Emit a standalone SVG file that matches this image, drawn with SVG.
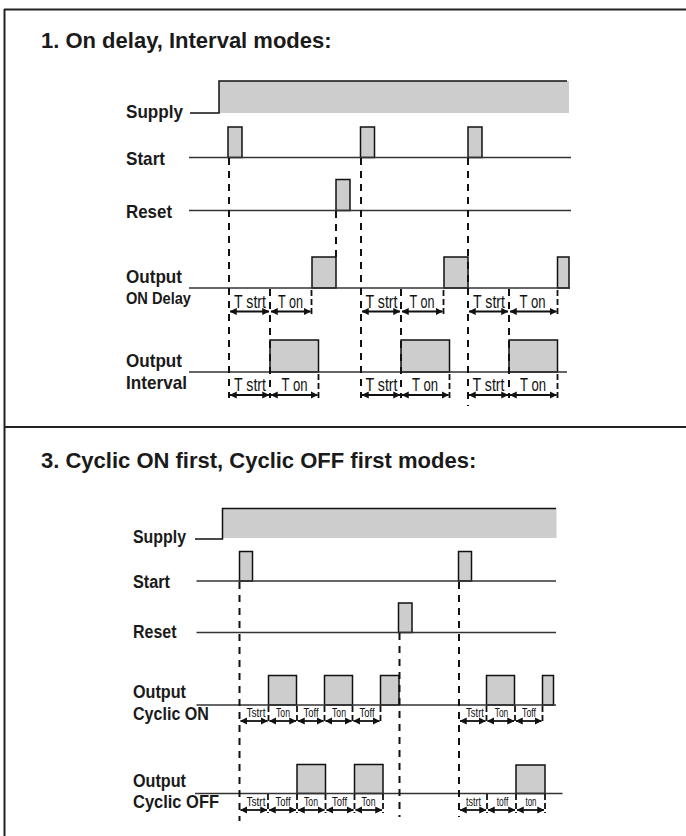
<svg xmlns="http://www.w3.org/2000/svg" width="686" height="836" viewBox="0 0 686 836">
<style>
.frame{stroke:#222;stroke-width:2;fill:none}
.title{font-family:"Liberation Sans",Arial,sans-serif;font-weight:bold;font-size:22px;fill:#1a1a1a}
.lbl{font-family:"Liberation Sans",Arial,sans-serif;font-weight:bold;font-size:19px;fill:#1a1a1a}
.lbl2{font-family:"Liberation Sans",Arial,sans-serif;font-weight:bold;font-size:18px;fill:#1a1a1a}
.sub{font-family:"Liberation Sans",Arial,sans-serif;font-weight:bold;font-size:16px;fill:#1a1a1a}
.t{font-family:"Liberation Sans",Arial,sans-serif;font-size:19px;fill:#111;text-anchor:middle}
.ts{font-family:"Liberation Sans",Arial,sans-serif;font-size:13px;fill:#111;text-anchor:middle}
.sig{stroke:#333;stroke-width:1.5;fill:none}
.pulse{fill:#cdcdcd;stroke:#111;stroke-width:1.5}
.gray{fill:#cdcdcd;stroke:none}
.edge{stroke:#111;stroke-width:1.5;fill:none}
.dash{stroke:#111;stroke-width:2;stroke-dasharray:7 6;fill:none}
.tick{stroke:#111;stroke-width:1.8;stroke-dasharray:6 3;fill:none}
.arr{stroke:#111;stroke-width:1.8;fill:none;marker-start:url(#ah);marker-end:url(#ah)}
</style>
<defs>
<marker id="ah" viewBox="0 0 8 8" refX="7.5" refY="4" markerWidth="4" markerHeight="4" orient="auto-start-reverse" markerUnits="strokeWidth">
<path d="M0,0 L8,4 L0,8 z" fill="#111"/>
</marker>
</defs>

<g id="frame">
<line class="frame" x1="4" y1="9.5" x2="686" y2="9.5"/>
<line class="frame" x1="4.5" y1="9" x2="4.5" y2="836"/>
<line class="frame" x1="4" y1="427" x2="686" y2="427"/>
</g>

<!-- ===== Section 1 ===== -->
<g id="section1">
<text class="title" x="41" y="48">1. On delay, Interval modes:</text>

<g id="s1-supply">
<text class="lbl" x="126" y="118" textLength="57" lengthAdjust="spacingAndGlyphs">Supply</text>
<rect class="gray" x="219" y="81" width="350" height="32"/>
<path class="edge" d="M190,113 H219 V81 H567"/>
</g>

<g id="s1-start">
<text class="lbl" x="126" y="165" textLength="39" lengthAdjust="spacingAndGlyphs">Start</text>
<rect class="pulse" x="228" y="127" width="14" height="30.5"/>
<rect class="pulse" x="360.5" y="127" width="14" height="30.5"/>
<rect class="pulse" x="468" y="127" width="14" height="30.5"/>
<line class="sig" x1="189" y1="157.5" x2="571" y2="157.5"/>
</g>

<g id="s1-reset">
<text class="lbl" x="126" y="218" textLength="46" lengthAdjust="spacingAndGlyphs">Reset</text>
<rect class="pulse" x="336" y="179.5" width="14" height="31"/>
<line class="sig" x1="189" y1="210.5" x2="571" y2="210.5"/>
</g>

<g id="s1-ondelay">
<text class="lbl" x="126" y="283" textLength="56" lengthAdjust="spacingAndGlyphs">Output</text>
<text class="sub" x="126" y="304" textLength="65" lengthAdjust="spacingAndGlyphs">ON Delay</text>
<rect class="pulse" x="312" y="257" width="24" height="31"/>
<rect class="pulse" x="444" y="257" width="24" height="31"/>
<rect class="pulse" x="557.5" y="257" width="11.5" height="31"/>
<line class="sig" x1="189" y1="288" x2="570" y2="288"/>
</g>

<g id="s1-interval">
<text class="lbl" x="126" y="367" textLength="56" lengthAdjust="spacingAndGlyphs">Output</text>
<text class="lbl" x="126" y="389" textLength="61" lengthAdjust="spacingAndGlyphs">Interval</text>
<rect class="pulse" x="270" y="340" width="48.5" height="32"/>
<rect class="pulse" x="401" y="340" width="48.5" height="32"/>
<rect class="pulse" x="509" y="340" width="48.5" height="32"/>
<line class="sig" x1="189" y1="372" x2="567" y2="372"/>
</g>
</g>

<g id="connectors1">
<line class="dash" x1="229" y1="158" x2="229" y2="398"/>
<line class="dash" x1="361" y1="158" x2="361" y2="398"/>
<line class="dash" x1="468" y1="158" x2="468" y2="406"/>
<line class="dash" x1="336" y1="211" x2="336" y2="257"/>
<line class="dash" x1="270" y1="289" x2="270" y2="398"/>
<line class="dash" x1="401" y1="289" x2="401" y2="398"/>
<line class="dash" x1="509" y1="289" x2="509" y2="398"/>
<line class="tick" x1="311.5" y1="290" x2="311.5" y2="314"/>
<line class="tick" x1="443.5" y1="290" x2="443.5" y2="314"/>
<line class="tick" x1="557.5" y1="290" x2="557.5" y2="314"/>
<line class="tick" x1="318.5" y1="374" x2="318.5" y2="398"/>
<line class="tick" x1="449.5" y1="374" x2="449.5" y2="398"/>
<line class="tick" x1="557.5" y1="374" x2="557.5" y2="398"/>

<line class="arr" x1="230" y1="311.5" x2="269" y2="311.5"/>
<line class="arr" x1="271" y1="311.5" x2="310.5" y2="311.5"/>
<line class="arr" x1="362" y1="311.5" x2="400" y2="311.5"/>
<line class="arr" x1="402" y1="311.5" x2="442.5" y2="311.5"/>
<line class="arr" x1="469" y1="311.5" x2="508" y2="311.5"/>
<line class="arr" x1="510" y1="311.5" x2="556.5" y2="311.5"/>

<line class="arr" x1="230" y1="395" x2="269" y2="395"/>
<line class="arr" x1="271" y1="395" x2="317.5" y2="395"/>
<line class="arr" x1="362" y1="395" x2="400" y2="395"/>
<line class="arr" x1="402" y1="395" x2="448.5" y2="395"/>
<line class="arr" x1="469" y1="395" x2="508" y2="395"/>
<line class="arr" x1="510" y1="395" x2="556.5" y2="395"/>

<text class="t" x="250" y="307.5" textLength="32" lengthAdjust="spacingAndGlyphs">T strt</text>
<text class="t" x="290.5" y="307.5" textLength="25" lengthAdjust="spacingAndGlyphs">T on</text>
<text class="t" x="381.5" y="307.5" textLength="32" lengthAdjust="spacingAndGlyphs">T strt</text>
<text class="t" x="422" y="307.5" textLength="25" lengthAdjust="spacingAndGlyphs">T on</text>
<text class="t" x="489" y="307.5" textLength="32" lengthAdjust="spacingAndGlyphs">T strt</text>
<text class="t" x="532.5" y="307.5" textLength="26" lengthAdjust="spacingAndGlyphs">T on</text>

<text class="t" x="250" y="391" textLength="32" lengthAdjust="spacingAndGlyphs">T strt</text>
<text class="t" x="294.5" y="391" textLength="26" lengthAdjust="spacingAndGlyphs">T on</text>
<text class="t" x="381.5" y="391" textLength="32" lengthAdjust="spacingAndGlyphs">T strt</text>
<text class="t" x="425" y="391" textLength="26" lengthAdjust="spacingAndGlyphs">T on</text>
<text class="t" x="488.5" y="391" textLength="32" lengthAdjust="spacingAndGlyphs">T strt</text>
<text class="t" x="533" y="391" textLength="26" lengthAdjust="spacingAndGlyphs">T on</text>
</g>

<!-- ===== Section 3 ===== -->
<g id="section3">
<text class="title" x="41" y="468">3. Cyclic ON first, Cyclic OFF first modes:</text>

<g id="s3-supply">
<text class="lbl2" x="133" y="543" textLength="53" lengthAdjust="spacingAndGlyphs">Supply</text>
<rect class="gray" x="222.5" y="508.5" width="334" height="29.5"/>
<path class="edge" d="M195,539 H222.5 V508.5 H556"/>
</g>

<g id="s3-start">
<text class="lbl2" x="133" y="588" textLength="37" lengthAdjust="spacingAndGlyphs">Start</text>
<rect class="pulse" x="239.5" y="551.5" width="13" height="29.5"/>
<rect class="pulse" x="458.5" y="551.5" width="13" height="29.5"/>
<line class="sig" x1="196.5" y1="581" x2="556" y2="581"/>
</g>

<g id="s3-reset">
<text class="lbl2" x="133" y="638" textLength="43.5" lengthAdjust="spacingAndGlyphs">Reset</text>
<rect class="pulse" x="398.5" y="603" width="13.5" height="29.5"/>
<line class="sig" x1="196.5" y1="632.5" x2="556" y2="632.5"/>
</g>

<g id="s3-cyclicon">
<text class="lbl2" x="133" y="698" textLength="53" lengthAdjust="spacingAndGlyphs">Output</text>
<text class="lbl2" x="133" y="720" textLength="76" lengthAdjust="spacingAndGlyphs">Cyclic ON</text>
<rect class="pulse" x="268.5" y="675.5" width="28" height="29.5"/>
<rect class="pulse" x="324.5" y="675.5" width="28" height="29.5"/>
<rect class="pulse" x="380.5" y="675.5" width="18.5" height="29.5"/>
<rect class="pulse" x="486.5" y="675.5" width="28" height="29.5"/>
<rect class="pulse" x="542.5" y="675.5" width="11" height="29.5"/>
<line class="sig" x1="196.5" y1="705" x2="556" y2="705"/>
</g>

<g id="s3-cyclicoff">
<text class="lbl2" x="133" y="787" textLength="53" lengthAdjust="spacingAndGlyphs">Output</text>
<text class="lbl2" x="133" y="808" textLength="86" lengthAdjust="spacingAndGlyphs">Cyclic OFF</text>
<rect class="pulse" x="297" y="764.5" width="28.5" height="29"/>
<rect class="pulse" x="354.5" y="764.5" width="28.5" height="29"/>
<rect class="pulse" x="516" y="765" width="29" height="28.5"/>
<line class="sig" x1="195" y1="793.5" x2="562.5" y2="793.5"/>
</g>
</g>

<g id="connectors3">
<line class="dash" x1="239.5" y1="582" x2="239.5" y2="821"/>
<line class="dash" x1="459" y1="582" x2="459" y2="817"/>
<line class="dash" x1="399.5" y1="633" x2="399.5" y2="817"/>

<line class="tick" x1="268.5" y1="706" x2="268.5" y2="724"/>
<line class="tick" x1="297" y1="706" x2="297" y2="724"/>
<line class="tick" x1="324.5" y1="706" x2="324.5" y2="724"/>
<line class="tick" x1="352.5" y1="706" x2="352.5" y2="724"/>
<line class="tick" x1="380.5" y1="706" x2="380.5" y2="724"/>
<line class="tick" x1="486.5" y1="706" x2="486.5" y2="724"/>
<line class="tick" x1="515" y1="706" x2="515" y2="724"/>
<line class="tick" x1="542.5" y1="706" x2="542.5" y2="724"/>

<line class="tick" x1="268" y1="794" x2="268" y2="813"/>
<line class="tick" x1="297" y1="794" x2="297" y2="813"/>
<line class="tick" x1="325.5" y1="794" x2="325.5" y2="813"/>
<line class="tick" x1="354.5" y1="794" x2="354.5" y2="813"/>
<line class="tick" x1="383" y1="794" x2="383" y2="813"/>
<line class="tick" x1="487" y1="794" x2="487" y2="813"/>
<line class="tick" x1="516" y1="794" x2="516" y2="813"/>
<line class="tick" x1="545" y1="794" x2="545" y2="813"/>

<line class="arr" x1="240.5" y1="721" x2="267.5" y2="721"/>
<line class="arr" x1="269.5" y1="721" x2="296" y2="721"/>
<line class="arr" x1="298" y1="721" x2="323.5" y2="721"/>
<line class="arr" x1="325.5" y1="721" x2="351.5" y2="721"/>
<line class="arr" x1="353.5" y1="721" x2="379.5" y2="721"/>
<line class="arr" x1="460" y1="721" x2="485.5" y2="721"/>
<line class="arr" x1="487.5" y1="721" x2="514" y2="721"/>
<line class="arr" x1="516" y1="721" x2="541.5" y2="721"/>

<line class="arr" x1="240.5" y1="810" x2="267" y2="810"/>
<line class="arr" x1="269" y1="810" x2="296" y2="810"/>
<line class="arr" x1="298" y1="810" x2="324.5" y2="810"/>
<line class="arr" x1="326.5" y1="810" x2="353.5" y2="810"/>
<line class="arr" x1="355.5" y1="810" x2="382" y2="810"/>
<line class="arr" x1="460" y1="810" x2="486" y2="810"/>
<line class="arr" x1="488" y1="810" x2="515" y2="810"/>
<line class="arr" x1="517" y1="810" x2="544" y2="810"/>

<text class="ts" x="256" y="717" textLength="19" lengthAdjust="spacingAndGlyphs">Tstrt</text>
<text class="ts" x="283" y="717" textLength="14" lengthAdjust="spacingAndGlyphs">Ton</text>
<text class="ts" x="311" y="717" textLength="15" lengthAdjust="spacingAndGlyphs">Toff</text>
<text class="ts" x="339" y="717" textLength="14" lengthAdjust="spacingAndGlyphs">Ton</text>
<text class="ts" x="367" y="717" textLength="15" lengthAdjust="spacingAndGlyphs">Toff</text>
<text class="ts" x="475" y="717" textLength="18" lengthAdjust="spacingAndGlyphs">Tstrt</text>
<text class="ts" x="501.5" y="717" textLength="13.5" lengthAdjust="spacingAndGlyphs">Ton</text>
<text class="ts" x="529" y="717" textLength="14" lengthAdjust="spacingAndGlyphs">Toff</text>

<text class="ts" x="256" y="806" textLength="19" lengthAdjust="spacingAndGlyphs">Tstrt</text>
<text class="ts" x="283" y="806" textLength="15" lengthAdjust="spacingAndGlyphs">Toff</text>
<text class="ts" x="311" y="806" textLength="14" lengthAdjust="spacingAndGlyphs">Ton</text>
<text class="ts" x="339.5" y="806" textLength="15" lengthAdjust="spacingAndGlyphs">Toff</text>
<text class="ts" x="368.5" y="806" textLength="14" lengthAdjust="spacingAndGlyphs">Ton</text>
<text class="ts" x="473.5" y="806" textLength="15" lengthAdjust="spacingAndGlyphs">tstrt</text>
<text class="ts" x="502.5" y="806" textLength="11.5" lengthAdjust="spacingAndGlyphs">toff</text>
<text class="ts" x="531" y="806" textLength="11" lengthAdjust="spacingAndGlyphs">ton</text>
</g>
</svg>
